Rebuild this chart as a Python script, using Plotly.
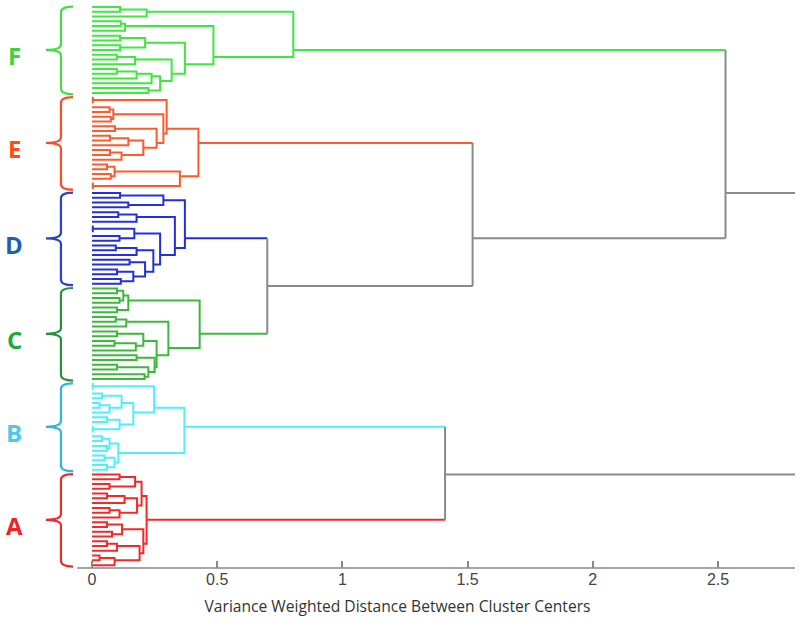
import plotly.graph_objects as go

L = 0  # a leaf

# ---- data: cluster sub-trees, [merge height, left child, right child] ----
TREE_F = [0.804, [0.218, [0.112, L, L], L],
          [0.485, [0.132, [0.115, L, L], L],
           [0.371, [0.212, [0.112, L, L], [0.112, L, L]],
            [0.318, [0.172, [0.099, L, L], L],
             [0.272, [0.238, [0.178, [0.099, L, L], L], L], [0.225, L, L]]]]]]

TREE_E = [0.425,
          [0.298, [0.003, L, L],
           [0.285, [0.085, [0.07, L, L], [0.075, L, L]],
            [0.258, [0.092, L, L],
             [0.205, [0.145, [0.072, L, L], L], [0.118, [0.072, L, L], L]]]]],
          [0.351, [0.09, [0.06, L, L], [0.075, L, L]], [0.003, L, L]]]

TREE_D = [0.371,
          [0.285, [0.112, L, L], [0.145, L, L]],
          [0.331, [0.178, [0.105, L, L], L],
           [0.272, [0.169, [0.003, L, L], [0.11, L, L]],
            [0.245, [0.178, [0.095, L, L], L],
             [0.212, [0.15, L, L], [0.165, [0.1, L, L], [0.115, L, L]]]]]]]

TREE_C = [0.43,
          [0.145, [0.125, [0.1, L, L], [0.11, L, L]], [0.1, L, L]],
          [0.305, [0.137, [0.095, L, L], L],
           [0.258, [0.205, [0.1, L, L], [0.175, [0.09, L, L], L]],
            [0.25, [0.178, L, L], [0.225, [0.1, L, L], [0.21, L, L]]]]]]

TREE_B = [0.369,
          [0.248, [0.003, L, L],
           [0.165, [0.118, [0.04, L, L], [0.07, [0.03, L, L], L]],
            [0.11, [0.06, L, L], [0.003, L, L]]]],
          [0.105, [0.07, [0.04, L, L], [0.06, L, L]], [0.09, [0.05, L, L], [0.06, L, L]]]]

TREE_A = [0.218,
          [0.198, [0.172, [0.11, L, L], [0.07, L, L]],
           [0.18, [0.13, [0.06, L, L], L], [0.11, [0.07, L, L], L]]],
          [0.205, [0.12, [0.06, L, L], [0.08, L, L]],
           [0.19, [0.1, [0.06, L, L], L], [0.09, [0.03, L, L], L]]]]

# upper merges between clusters
TOP_TREE = [2.53, "F", [1.52, "E", [0.70, "D", "C"]]]
BOTTOM_TREE = [1.41, "B", "A"]

CLUSTER_LABELS = ["F", "E", "D", "C", "B", "A"]
CLUSTER_TREES = {"F": TREE_F, "E": TREE_E, "D": TREE_D, "C": TREE_C, "B": TREE_B, "A": TREE_A}

TICK_VALUES = [0, 0.5, 1, 1.5, 2, 2.5]
TICK_LABELS = ["0", "0.5", "1", "1.5", "2", "2.5"]
X_TITLE = "Variance Weighted Distance Between Cluster Centers"

# ---- styles ----
LINE_COLORS = {"F": "#3ee83e", "E": "#ff5a2e", "D": "#2430e0", "C": "#3cb83c",
               "B": "#4ef0fa", "A": "#f42828"}
BRACE_COLORS = {"F": "#44dd44", "E": "#ff4c26", "D": "#2a40d0", "C": "#2a9040",
                "B": "#2eb4e8", "A": "#f02a2a"}
LETTER_COLORS = {"F": "#39d639", "E": "#ff4a1c", "D": "#1f5fb8", "C": "#1fa83a",
                 "B": "#4cc9ec", "A": "#ee2424"}
GRAY = "#8a8a8a"

X_MIN, X_MAX = -0.3674, 2.8075
AXIS_START = -0.06

segs = {k: [] for k in list(LINE_COLORS) + ["gray"]}
spans = {}
state = {"idx": 0}


def build_cluster(node, color):
    if node == L:
        i = state["idx"]
        state["idx"] += 1
        return float(i), 0.0, float(i), 1
    h, a, b = node
    ya, ha, sa, na = build_cluster(a, color)
    yb, hb, sb, nb = build_cluster(b, color)
    segs[color].extend([(ha, ya), (h, ya), (h, yb), (hb, yb), None])
    return (sa + sb) / (na + nb), h, sa + sb, na + nb


def build_upper(node):
    # returns y, h, sum, n, color-of-link
    if isinstance(node, str):
        first = state["idx"]
        y, h, s, n = build_cluster(CLUSTER_TREES[node], node)
        spans[node] = (first, state["idx"] - 1, y)
        return y, h, s, n, node
    h, a, b = node
    ya, ha, sa, na, ca = build_upper(a)
    yb, hb, sb, nb, cb = build_upper(b)
    segs[ca].extend([(ha, ya), (h, ya), None])
    segs[cb].extend([(hb, yb), (h, yb), None])
    segs["gray"].extend([(h, ya), (h, yb), None])
    return (sa + sb) / (na + nb), h, sa + sb, na + nb, "gray"


fig = go.Figure()
for tree in (TOP_TREE, BOTTOM_TREE):
    y, h, s, n, c = build_upper(tree)
    segs["gray"].extend([(h, y), (X_MAX, y), None])

for key, pts in segs.items():
    xs = [p[0] if p else None for p in pts]
    ys = [p[1] if p else None for p in pts]
    color = GRAY if key == "gray" else LINE_COLORS[key]
    fig.add_trace(go.Scatter(x=xs, y=ys, mode="lines", hoverinfo="skip",
                             line=dict(color=color, width=2), showlegend=False))

n_leaves = state["idx"]

# braces and letters
XH, XL, XT = -0.076, -0.124, -0.184
shapes = []
annotations = []
for lab in CLUSTER_LABELS:
    y0, y1, ym = spans[lab]
    y0 -= 0.1
    y1 += 0.3
    r = 1.2
    path = (f"M {XH},{y0} Q {XL},{y0} {XL},{y0 + r} L {XL},{ym - r} "
            f"Q {XL},{ym} {XT},{ym} Q {XL},{ym} {XL},{ym + r} "
            f"L {XL},{y1 - r} Q {XL},{y1} {XH},{y1}")
    shapes.append(dict(type="path", path=path, xref="x", yref="y",
                       line=dict(color=BRACE_COLORS[lab], width=2.2)))
    annotations.append(dict(x=-0.3115, y=ym + 1.2, xref="x", yref="y", text=f"<b>{lab}</b>",
                            showarrow=False, xanchor="center", yanchor="middle",
                            font=dict(family="Open Sans, Liberation Sans, sans-serif",
                                      size=24, color=LETTER_COLORS[lab])))

# axis baseline
shapes.append(dict(type="line", xref="x", yref="paper", x0=AXIS_START, x1=X_MAX, y0=0, y1=0,
                   line=dict(color="#888888", width=1.5)))

fig.update_layout(
    width=800, height=630,
    margin=dict(l=0, r=5, t=0, b=62),
    paper_bgcolor="white", plot_bgcolor="white",
    shapes=shapes, annotations=annotations,
    xaxis=dict(range=[X_MIN, X_MAX], showgrid=False, zeroline=False, showline=False,
               tickvals=TICK_VALUES, ticktext=TICK_LABELS, ticks="inside", ticklen=7,
               tickwidth=1.5, tickcolor="#888888",
               tickfont=dict(family="Liberation Sans Narrow, Liberation Sans, sans-serif",
                             size=16, color="#444444"),
               title=dict(text=X_TITLE, standoff=14,
                          font=dict(family="Open Sans, sans-serif", size=15.6, color="#333333"))),
    yaxis=dict(range=[n_leaves - 0.4, -1.47], visible=False, showgrid=False, zeroline=False),
)

fig.write_html("out.html", config={"displayModeBar": False},
               post_script="document.body.style.margin='0';")
